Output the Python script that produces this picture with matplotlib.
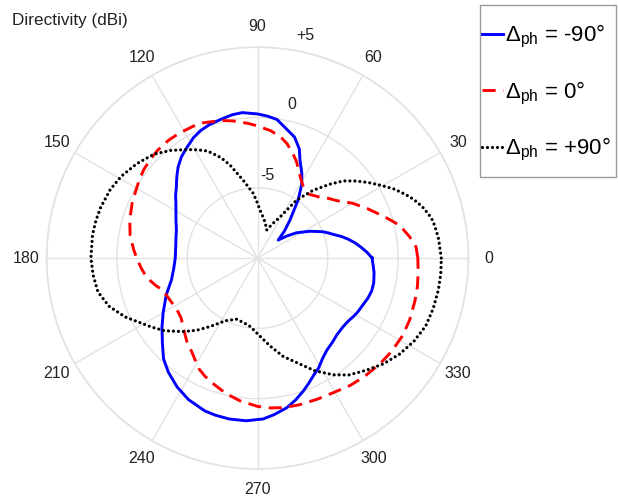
import numpy as np
import matplotlib
matplotlib.use("Agg")
import matplotlib.pyplot as plt
from matplotlib.patches import Rectangle

plt.rcParams['font.family'] = ['Liberation Sans', 'DejaVu Sans']
plt.rcParams['mathtext.fontset'] = 'custom'
plt.rcParams['mathtext.rm'] = 'Liberation Sans'
plt.rcParams['mathtext.it'] = 'Liberation Sans:italic'

# directivity (dBi), angle in degrees
ang_m90 = [0, 3, 6, 9, 12, 14.5, 17, 19.5, 22, 27, 33, 37, 41, 45, 49.5, 55, 59, 62.4, 66.6,
           69, 73, 82, 86, 90, 96, 100, 105, 110, 114, 118, 123, 127, 131, 133.5, 136, 139,
           143, 146, 150, 155, 161, 165, 170, 175, 180, 187, 194, 202, 210, 216, 222, 227,
           232, 238, 244, 251, 255, 260, 266, 272, 276, 281, 285, 289, 292, 296, 299, 303,
           307, 312, 316, 321, 325, 329, 332, 336, 340, 344, 348, 353, 356, 360]
dir_m90 = [-1.85, -2.2, -2.6, -3.0, -3.45, -3.85, -4.3, -4.65, -5.0, -5.8, -6.7, -7.4, -8.05,
           -7.3, -6.45, -4.97, -3.9, -3.2, -2.4, -1.7, -1.0, -0.05, 0.12, 0.25, 0.4, 0.35,
           0.2, 0.08, -0.07, -0.3, -0.7, -1.0, -1.4, -1.7, -2.0, -2.35, -2.7, -3.0, -3.3,
           -3.6, -3.9, -4.0, -4.1, -4.15, -4.15, -4.0, -3.7, -3.0, -2.25, -1.6, -0.9, -0.2,
           0.3, 0.8, 1.2, 1.5, 1.57, 1.62, 1.6, 1.45, 1.2, 0.85, 0.45, 0.0, -0.35, -0.8,
           -1.05, -1.5, -1.8, -2.0, -2.15, -2.2, -2.15, -2.0, -1.9, -1.8, -1.65, -1.55,
           -1.55, -1.65, -1.75, -1.85]

ang_0 = [0, 4, 8, 13, 18, 24, 30, 36, 40, 45, 52, 57, 62, 68, 71, 75.5, 79, 84, 90, 94, 100,
         105, 112, 116, 122, 127, 133, 137, 142, 146, 150, 156, 163, 170, 176, 180, 185, 190,
         195, 199, 202, 206, 212, 218, 224, 230, 235, 242, 246, 251, 257, 263, 270, 275, 280,
         286, 293, 300, 306, 312, 319, 325, 332, 338, 345, 350, 355, 360]
dir_0 = [1.4, 1.3, 0.92, 0.37, -0.5, -1.4, -2.2, -3.05, -3.4, -3.85, -4.2, -4.0, -3.5, -2.6,
         -2.2, -1.6, -1.25, -0.9, -0.6, -0.4, -0.1, 0.13, 0.37, 0.43, 0.48, 0.5, 0.45, 0.37,
         0.25, 0.1, -0.07, -0.25, -0.5, -0.8, -1.17, -1.4, -1.7, -2.0, -2.5, -2.9, -3.0,
         -3.1, -3.2, -3.1, -2.7, -2.2, -1.85, -1.1, -0.8, -0.5, -0.1, 0.23, 0.55, 0.7, 0.8,
         0.85, 0.9, 1.0, 1.2, 1.35, 1.5, 1.62, 1.7, 1.68, 1.6, 1.55, 1.47, 1.4]

ang_p90 = [0, 6, 9, 12, 14.5, 17, 19.5, 22, 24.5, 27, 31, 34.5, 38, 42, 45.6, 50.6, 56, 61.4,
           66, 72, 78, 84, 87, 90, 93.7, 100.3, 106.5, 110, 115, 119, 123, 129, 135, 142,
           149, 155, 162, 167, 172, 180, 186, 192, 198, 204, 212.6, 218, 224.8, 230, 235.3,
           243, 251, 258, 264, 272, 278, 284.6, 292, 297, 303, 308, 314, 320, 326, 332, 338,
           344, 350, 355, 360]
dir_p90 = [3.07, 2.95, 2.85, 2.75, 2.55, 2.3, 2.0, 1.66, 1.25, 0.85, 0.1, -0.5, -1.1, -1.8,
           -2.65, -3.76, -5.0, -6.7, -7.3, -7.9, -7.4, -6.9, -6.6, -6.1, -5.4, -4.4, -3.1,
           -2.4, -1.6, -1.2, -0.8, -0.15, 0.44, 0.9, 1.3, 1.55, 1.72, 1.8, 1.85, 1.85, 1.75,
           1.6, 1.1, 0.3, -0.95, -1.6, -2.58, -3.3, -4.08, -5.0, -5.4, -5.3, -5.1, -4.42,
           -3.7, -2.77, -1.85, -1.0, -0.1, 0.55, 1.1, 1.7, 2.2, 2.6, 2.9, 3.0, 3.06, 3.08,
           3.07]

labels = [r'$\Delta_{\mathrm{ph}}$ = -90°', r'$\Delta_{\mathrm{ph}}$ = 0°',
          r'$\Delta_{\mathrm{ph}}$ = +90°']
r_ticks = [-5, 0, 5]
r_tick_labels = ['-5', '0', '+5']

fig = plt.figure(figsize=(6.18, 5.01), dpi=100)
ax = fig.add_axes([0.0752, 0.0639, 0.683, 0.842], projection='polar')

l1, = ax.plot(np.deg2rad(ang_m90), dir_m90, color='#0000ff', lw=2.1,
              solid_joinstyle='round')
l2, = ax.plot(np.deg2rad(ang_0), dir_0, color='#ff0000', lw=2.1,
              linestyle=(0, (4.5, 2.6)), dash_joinstyle='round')
l3, = ax.plot(np.deg2rad(ang_p90), dir_p90, color='black', lw=2.3,
              linestyle=(0, (0.01, 1.55)), dash_capstyle='round')

ax.set_ylim(-10, 5)
ax.set_rticks(r_ticks)
ax.set_yticklabels([])
ax.set_thetagrids(range(0, 360, 30), [str(a) for a in range(0, 360, 30)])
ax.tick_params(axis='x', pad=4.5, labelsize=11.5, colors='#222222')
ax.grid(color='#e2e2e2', lw=1)
ax.spines['polar'].set_color('#e2e2e2')
ax.spines['polar'].set_linewidth(1.2)

# radial tick labels placed by hand, as in the original
r_label_pos = [(83.5, -4.07), (77.4, 1.2), (78, 6.2)]
for (a, r), t in zip(r_label_pos, r_tick_labels):
    ax.text(np.deg2rad(a), r, t, ha='center', va='center', fontsize=11.5,
            color='#222222', clip_on=False)

fig.text(12 / 618, 1 - 21 / 501, 'Directivity (dBi)', fontsize=12.3, color='#222222',
         va='center', ha='left')

# legend box
fig.patches.append(Rectangle((480 / 618, 1 - 177 / 501), 136 / 618, 172 / 501,
                             transform=fig.transFigure, facecolor='white',
                             edgecolor='#999999', lw=1.0, zorder=1))
leg = fig.legend([l1, l2, l3], labels, loc='upper left',
                 bbox_to_anchor=(482 / 618, 1 - 23 / 501), fontsize=16,
                 handlelength=0.95, handletextpad=0.1, labelspacing=1.32,
                 borderpad=0, borderaxespad=0, frameon=False)

fig.savefig('out.png', dpi=100)
